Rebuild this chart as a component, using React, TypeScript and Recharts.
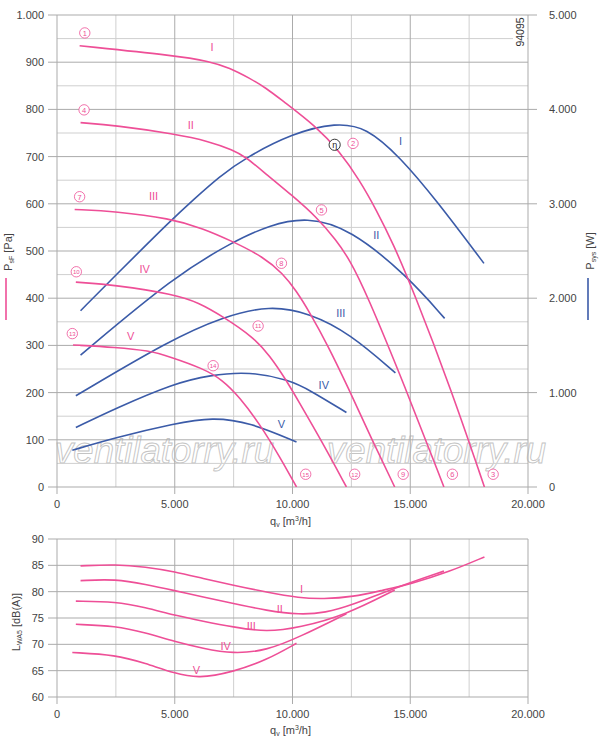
import React from "react";
import { CartesianGrid, ComposedChart, Line, ReferenceDot, XAxis, YAxis } from "recharts";

const PINK = "#ee4f97";
const BLUE = "#3b5ba8";
const GRID_MAJOR = "#ababab";
const GRID_MINOR = "#cfcfcf";
const TEXT = "#444";
const FONT = '"Liberation Sans", Arial, sans-serif';
const CURVE = "basis";

// volume flow q_v [m3/h] and static pressure P_sF [Pa], steps I..V
const pFlowI = [960, 5000, 6480, 7330, 8180, 8890, 9530, 11000, 12000, 12850, 13560, 14270, 15120, 16750, 18150];
const pressureI = [935, 914, 902, 888, 866, 845, 820, 764, 711, 650, 587, 516, 417, 205, 0];
const pFlowII = [1000, 2500, 5000, 6480, 7470, 8000, 8900, 10000, 11000, 11860, 12430, 13100, 14800, 16430];
const pressureII = [772, 766, 748, 732, 714, 700, 662, 617, 573, 523, 481, 415, 210, 0];
const pFlowIII = [750, 2500, 4790, 6200, 7470, 8750, 9600, 10170, 10730, 11500, 12350, 13300, 14340];
const pressureIII = [588, 584, 569, 548, 520, 488, 452, 415, 370, 300, 212, 108, 0];
const pFlowIV = [800, 2500, 5000, 6000, 7050, 8320, 9030, 9740, 10230, 11300, 12290];
const pressureIV = [434, 428, 408, 391, 361, 318, 279, 226, 184, 92, 0];
const pFlowV = [680, 2500, 3900, 4800, 6200, 7000, 7760, 8600, 9460, 10170];
const pressureV = [301, 296, 289, 276, 251, 228, 190, 134, 64, 0];

// system power P_sys [W]
const wFlowI = [1000, 2500, 4930, 5780, 6900, 7970, 10000, 11860, 13140, 14550, 16100, 18130];
const powerI = [1867, 2245, 2847, 3041, 3290, 3483, 3748, 3860, 3810, 3500, 3041, 2369];
const wFlowII = [1000, 5000, 7470, 9030, 10600, 12430, 14900, 16460];
const powerII = [1397, 2235, 2599, 2776, 2860, 2740, 2230, 1786];
const wFlowIII = [800, 4790, 7050, 9030, 10730, 12430, 14370];
const powerIII = [966, 1555, 1803, 1925, 1842, 1627, 1209];
const wFlowIV = [800, 2500, 5000, 6480, 8180, 9880, 10730, 12290];
const powerIV = [630, 835, 1100, 1185, 1225, 1132, 1026, 789];
const wFlowV = [650, 2500, 5000, 6600, 8200, 10170];
const powerV = [389, 525, 672, 740, 684, 477];

// sound power L_WA5 [dB(A)]
const sFlowI = [1000, 2500, 3750, 5000, 6200, 7470, 8900, 10300, 11300, 12570, 13850, 14980, 16670, 18150];
const soundI = [84.9, 85.2, 84.7, 83.8, 82.5, 81.25, 79.9, 78.8, 78.6, 79.0, 80.3, 81.4, 83.8, 86.6];
const sFlowII = [1000, 2500, 3750, 5000, 6200, 7470, 8900, 10300, 11400, 12500, 14270, 16430];
const soundII = [82.1, 82.4, 81.4, 80.2, 79.0, 77.8, 76.4, 75.6, 76.0, 77.4, 80.6, 83.9];
const sFlowIII = [800, 2500, 3750, 5000, 6200, 7470, 8890, 10300, 12220, 14340];
const soundIII = [78.2, 78.1, 77.0, 75.5, 74.4, 73.3, 72.3, 73.2, 75.5, 80.3];
const sFlowIV = [800, 2500, 3750, 5000, 6200, 7470, 8890, 10300, 12290];
const soundIV = [73.8, 73.5, 72.2, 70.5, 69.2, 68.2, 68.8, 71.4, 75.8];
const sFlowV = [650, 2500, 3750, 5000, 6000, 7470, 8890, 10170];
const soundV = [68.45, 68.0, 66.4, 64.5, 63.5, 64.75, 67.0, 70.2];

// ticks and grid values
const flowTicks = [0, 5000, 10000, 15000, 20000];
const flowMinor = [2500, 7500, 12500, 17500];
const pressureTicks = [0, 100, 200, 300, 400, 500, 600, 700, 800, 900, 1000];
const pressureMinor = [50, 150, 250, 350, 450, 550, 650, 750, 850, 950];
const powerTicks = [0, 1000, 2000, 3000, 4000, 5000];
const soundTicks = [60, 65, 70, 75, 80, 85, 90];

// annotations (data coordinates, pressure axis)
const stepNames = ["I", "II", "III", "IV", "V"];
const pressureNameQ = [6580, 5680, 4100, 3720, 3130];
const pressureNameP = [933, 767, 617, 462, 320];
const powerNameQ = [14590, 13560, 12050, 11330, 9530];
const powerNameP = [732, 534, 368, 217, 133];
const pointNumbers = [1, 4, 7, 10, 13, 2, 5, 8, 11, 14, 15, 12, 9, 6, 3];
const pointQ = [1180, 1150, 960, 820, 650, 12570, 11230, 9530, 8540, 6630, 10560, 12640, 14700, 16790, 18520];
const pointP = [962, 799, 615, 456, 325, 728, 587, 474, 341, 257, 27, 27, 27, 27, 27];
const soundNameQ = [10380, 9460, 8250, 7160, 5920];
const soundNameDb = [80.6, 76.8, 73.45, 69.65, 65.1];

const zip = (q: number[], v: number[]) => q.map((x, i) => ({ q: x, v: v[i] }));

const pressureCurves = [
  zip(pFlowI, pressureI),
  zip(pFlowII, pressureII),
  zip(pFlowIII, pressureIII),
  zip(pFlowIV, pressureIV),
  zip(pFlowV, pressureV),
];
const powerCurves = [
  zip(wFlowI, powerI),
  zip(wFlowII, powerII),
  zip(wFlowIII, powerIII),
  zip(wFlowIV, powerIV),
  zip(wFlowV, powerV),
];
const soundCurves = [
  zip(sFlowI, soundI),
  zip(sFlowII, soundII),
  zip(sFlowIII, soundIII),
  zip(sFlowIV, soundIV),
  zip(sFlowV, soundV),
];

const thousands = (n: number) =>
  n >= 1000 ? `${Math.floor(n / 1000)}.${String(n % 1000).padStart(3, "0")}` : String(n);

const tickStyle = { fill: TEXT, fontSize: 11, fontFamily: FONT };

const textShape = (text: string, color: string) => (props: any) => (
  <text
    x={props.cx}
    y={props.cy}
    textAnchor="middle"
    dominantBaseline="central"
    fill={color}
    fontSize={11}
    fontFamily={FONT}
  >
    {text}
  </text>
);

const circleShape = (n: number) => (props: any) => (
  <g>
    <circle cx={props.cx} cy={props.cy} r={5.2} fill="#fff" stroke={PINK} strokeWidth={0.8} />
    <text
      x={props.cx}
      y={props.cy + 0.4}
      textAnchor="middle"
      dominantBaseline="central"
      fill={PINK}
      fontSize={n > 9 ? 6 : 7.5}
      fontFamily={FONT}
    >
      {n}
    </text>
  </g>
);

const etaShape = (props: any) => (
  <g>
    <circle cx={props.cx} cy={props.cy} r={5.6} fill="#fff" stroke="#222" strokeWidth={0.9} />
    <text
      x={props.cx}
      y={props.cy + 0.3}
      textAnchor="middle"
      dominantBaseline="central"
      fill="#222"
      fontSize={9}
      fontFamily={FONT}
    >
      η
    </text>
  </g>
);

function TopChart() {
  return (
    <ComposedChart width={600} height={520} margin={{ top: 15, right: 0, bottom: 0, left: 0 }}>
      <CartesianGrid
        horizontalValues={pressureMinor}
        verticalValues={flowMinor}
        stroke={GRID_MINOR}
        strokeWidth={1}
      />
      <CartesianGrid
        horizontalValues={pressureTicks}
        verticalValues={flowTicks}
        stroke={GRID_MAJOR}
        strokeWidth={1}
      />
      <XAxis
        dataKey="q"
        type="number"
        domain={[0, 20000]}
        ticks={flowTicks}
        tickFormatter={thousands}
        allowDataOverflow
        axisLine={false}
        tickLine={{ stroke: GRID_MAJOR }}
        tickSize={7}
        tickMargin={6}
        height={33}
        tick={tickStyle}
      />
      <YAxis
        domain={[0, 1000]}
        ticks={pressureTicks}
        tickFormatter={thousands}
        allowDataOverflow
        axisLine={false}
        tickLine={{ stroke: GRID_MAJOR }}
        tickSize={9}
        tickMargin={4}
        width={57}
        tick={tickStyle}
      />
      <YAxis
        yAxisId="w"
        orientation="right"
        domain={[0, 5000]}
        ticks={powerTicks}
        tickFormatter={thousands}
        allowDataOverflow
        axisLine={false}
        tickLine={{ stroke: GRID_MAJOR }}
        tickSize={9}
        tickMargin={12}
        width={72}
        tick={{ ...tickStyle, textAnchor: "start" }}
      />
      {powerCurves.map((d, i) => (
        <Line
          key={`w${i}`}
          yAxisId="w"
          data={d}
          dataKey="v"
          type={CURVE}
          stroke={BLUE}
          strokeWidth={1.6}
          dot={false}
          isAnimationActive={false}
        />
      ))}
      {pressureCurves.map((d, i) => (
        <Line
          key={`p${i}`}
          data={d}
          dataKey="v"
          type={CURVE}
          stroke={PINK}
          strokeWidth={1.6}
          dot={false}
          isAnimationActive={false}
        />
      ))}
      {stepNames.map((s, i) => (
        <ReferenceDot
          key={`pn${i}`}
          x={pressureNameQ[i]}
          y={pressureNameP[i]}
          r={0}
          shape={textShape(s, PINK)}
        />
      ))}
      {stepNames.map((s, i) => (
        <ReferenceDot
          key={`wn${i}`}
          x={powerNameQ[i]}
          y={powerNameP[i]}
          r={0}
          shape={textShape(s, BLUE)}
        />
      ))}
      {pointNumbers.map((n, i) => (
        <ReferenceDot key={`c${n}`} x={pointQ[i]} y={pointP[i]} r={0} shape={circleShape(n)} />
      ))}
      <ReferenceDot x={11790} y={725} r={0} shape={etaShape} />
    </ComposedChart>
  );
}

function BottomChart() {
  return (
    <ComposedChart width={600} height={210} margin={{ top: 19, right: 72, bottom: 0, left: 0 }}>
      <CartesianGrid horizontal={false} verticalValues={flowMinor} stroke={GRID_MINOR} />
      <CartesianGrid horizontalValues={soundTicks} verticalValues={flowTicks} stroke={GRID_MAJOR} />
      <XAxis
        dataKey="q"
        type="number"
        domain={[0, 20000]}
        ticks={flowTicks}
        tickFormatter={thousands}
        allowDataOverflow
        axisLine={false}
        tickLine={{ stroke: GRID_MAJOR }}
        tickSize={7}
        tickMargin={6}
        height={33}
        tick={tickStyle}
      />
      <YAxis
        domain={[60, 90]}
        ticks={soundTicks}
        allowDataOverflow
        axisLine={false}
        tickLine={{ stroke: GRID_MAJOR }}
        tickSize={9}
        tickMargin={4}
        width={57}
        tick={tickStyle}
      />
      {soundCurves.map((d, i) => (
        <Line
          key={`s${i}`}
          data={d}
          dataKey="v"
          type={CURVE}
          stroke={PINK}
          strokeWidth={1.6}
          dot={false}
          isAnimationActive={false}
        />
      ))}
      {stepNames.map((s, i) => (
        <ReferenceDot
          key={`sn${i}`}
          x={soundNameQ[i]}
          y={soundNameDb[i]}
          r={0}
          shape={textShape(s, PINK)}
        />
      ))}
    </ComposedChart>
  );
}

export default function App() {
  const abs = { position: "absolute" as const, left: 0 };
  return (
    <div style={{ position: "absolute", left: 0, top: 0, width: 600, height: 747, background: "#fff", fontFamily: FONT }}>
      <svg width={600} height={747} style={{ ...abs, top: 0 }}>
        <text x={55} y={463} fontSize={36} fontStyle="italic" fontFamily={FONT} fill="none" stroke="#c4c4c4" strokeWidth={0.9} textLength={219} lengthAdjust="spacingAndGlyphs">
          ventilatorry.ru
        </text>
        <text x={327} y={463} fontSize={36} fontStyle="italic" fontFamily={FONT} fill="none" stroke="#c4c4c4" strokeWidth={0.9} textLength={219} lengthAdjust="spacingAndGlyphs">
          ventilatorry.ru
        </text>
      </svg>
      <div style={{ ...abs, top: 0 }}>
        <TopChart />
      </div>
      <div style={{ ...abs, top: 520 }}>
        <BottomChart />
      </div>
      <svg width={600} height={747} style={{ ...abs, top: 0, pointerEvents: "none" }}>
        <rect x={513} y={17} width={14} height={32} fill="#fff" />
        <text x={0} y={0} transform="translate(524,32) rotate(-90)" textAnchor="middle" fontSize={10.5} fill="#333" fontFamily={FONT}>
          94095
        </text>
        <text x={270} y={525} fontSize={11} fill={TEXT} fontFamily={FONT}>
          q<tspan fontSize={7} dy={2}>v</tspan>
          <tspan dy={-2}> [m</tspan>
          <tspan fontSize={7} dy={-4}>3</tspan>
          <tspan dy={4}>/h]</tspan>
        </text>
        <text x={270} y={734} fontSize={11} fill={TEXT} fontFamily={FONT}>
          q<tspan fontSize={7} dy={2}>v</tspan>
          <tspan dy={-2}> [m</tspan>
          <tspan fontSize={7} dy={-4}>3</tspan>
          <tspan dy={4}>/h]</tspan>
        </text>
        <text transform="translate(12,252) rotate(-90)" textAnchor="middle" fontSize={11} fill={TEXT} fontFamily={FONT}>
          P<tspan fontSize={7} dy={2}>sF</tspan>
          <tspan dy={-2}> [Pa]</tspan>
        </text>
        <line x1={6} y1={278} x2={6} y2={320} stroke={PINK} strokeWidth={1.6} />
        <text transform="translate(593.5,251) rotate(-90)" textAnchor="middle" fontSize={11} fill={TEXT} fontFamily={FONT}>
          P<tspan fontSize={7} dy={2}>sys</tspan>
          <tspan dy={-2}> [W]</tspan>
        </text>
        <line x1={588} y1={278} x2={588} y2={320} stroke={BLUE} strokeWidth={1.6} />
        <text transform="translate(20,622) rotate(-90)" textAnchor="middle" fontSize={11} fill={TEXT} fontFamily={FONT}>
          L<tspan fontSize={7} dy={2}>WA5</tspan>
          <tspan dy={-2}> [dB(A)]</tspan>
        </text>
      </svg>
    </div>
  );
}
